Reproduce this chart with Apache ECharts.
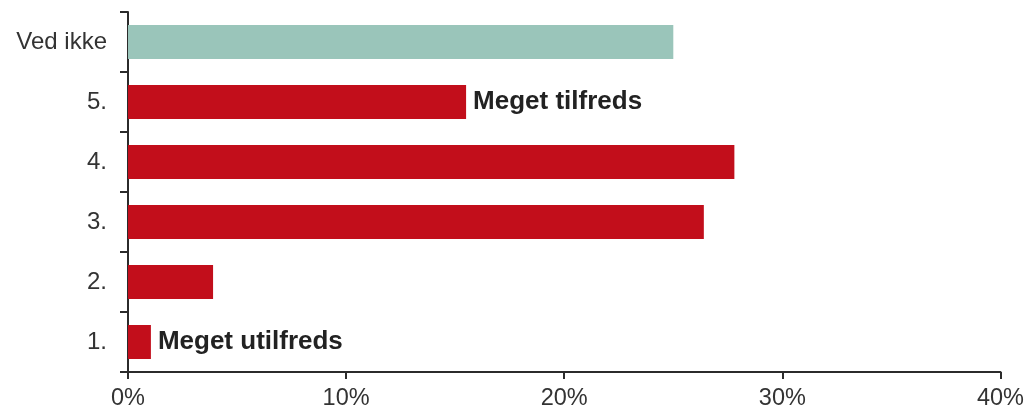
<!DOCTYPE html>
<html>
<head>
<meta charset="utf-8">
<script src="https://cdn.jsdelivr.net/npm/echarts@6/dist/echarts.min.js"></script>
<style>
  html, body { margin: 0; padding: 0; background: #fff; }
  #chart { width: 1027px; height: 412px; }
</style>
</head>
<body>
<div id="chart"></div>
<script>
// kategorier nedefra og op
const categories = ['1.', '2.', '3.', '4.', '5.', 'Ved ikke'];
// andel i procent
const shares = [1.05, 3.9, 26.4, 27.8, 15.5, 25.0];
// tekst ved enkelte søjler
const barNotes = ['Meget utilfreds', '', '', '', 'Meget tilfreds', ''];
const xTicks = [0, 10, 20, 30, 40];

const red = '#C20E1B';
const teal = '#9AC5BA';
const axisColor = '#2b2b2b';

var myChart = echarts.init(document.getElementById('chart'));

const seriesData = shares.map(function (v, i) {
    return {
        value: v,
        itemStyle: { color: categories[i] === 'Ved ikke' ? teal : red },
        label: {
            show: barNotes[i] !== '',
            formatter: barNotes[i]
        }
    };
});

var option = {
    animation: false,
    grid: { left: 128, right: 25.5, top: 12, bottom: 40, containLabel: false },
    xAxis: {
        type: 'value',
        min: xTicks[0],
        max: xTicks[xTicks.length - 1],
        interval: 10,
        axisLine: { show: true, lineStyle: { color: axisColor, width: 2 } },
        axisTick: { show: true, length: 7, lineStyle: { color: axisColor, width: 2 } },
        splitLine: { show: false },
        axisLabel: {
            formatter: '{value}%',
            color: '#333',
            fontFamily: 'Liberation Sans, Arial, sans-serif',
            fontSize: 23.5,
            margin: 15
        }
    },
    yAxis: {
        type: 'category',
        data: categories,
        axisLine: { show: true, lineStyle: { color: axisColor, width: 2 } },
        axisTick: { show: true, length: 8, alignWithLabel: false, lineStyle: { color: axisColor, width: 2 } },
        axisLabel: {
            color: '#333',
            fontFamily: 'Liberation Sans, Arial, sans-serif',
            fontSize: 24,
            margin: 21
        }
    },
    series: [{
        type: 'bar',
        data: seriesData,
        barWidth: 34,
        label: {
            position: 'right',
            distance: 7,
            color: '#222',
            fontWeight: 'bold',
            fontFamily: 'Liberation Sans, Arial, sans-serif',
            fontSize: 26
        }
    }]
};
option && myChart.setOption(option);
</script>
</body>
</html>
